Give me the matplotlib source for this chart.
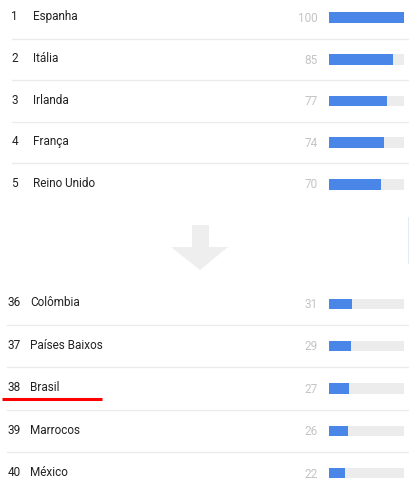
import matplotlib.pyplot as plt
from matplotlib.patches import Polygon

plt.rcParams['font.family'] = ['Roboto', 'DejaVu Sans']

# dados: ranking de interesse por pais
top_ranks = [1, 2, 3, 4, 5]
top_names = ['Espanha', 'Itália', 'Irlanda', 'França', 'Reino Unido']
top_values = [100, 85, 77, 74, 70]

bottom_ranks = [36, 37, 38, 39, 40]
bottom_names = ['Colômbia', 'Países Baixos', 'Brasil', 'Marrocos', 'México']
bottom_values = [31, 29, 27, 26, 22]

highlight = 'Brasil'

W, H = 410, 478
fig = plt.figure(figsize=(W / 100, H / 100), dpi=100)
ax = fig.add_axes([0, 0, 1, 1])
ax.set_xlim(0, W)
ax.set_ylim(H, 0)
ax.axis('off')

BAR_X0, BAR_W, BAR_H = 329, 75, 10.5
BLUE = '#4a86e8'
TRACK = '#ececec'
SEP = '#ebebeb'
TXT = '#222222'
VAL = '#c4c4c4'
FS = 8.5


def draw_block(ranks, names, values, y0, step, rank_x, name_x, sep_x):
    ys = [y0 + i * step for i in range(len(ranks))]
    ax.barh(ys, [BAR_W] * len(ys), left=BAR_X0, height=BAR_H, color=TRACK)
    ax.barh(ys, [v / 100 * BAR_W for v in values], left=BAR_X0, height=BAR_H,
            color=BLUE)
    for i, (r, n, v, y) in enumerate(zip(ranks, names, values, ys)):
        ax.text(rank_x, y + 2.5, str(r), fontsize=FS, color=TXT, va='baseline')
        ax.text(name_x, y + 2.5, n, fontsize=FS, color=TXT, va='baseline')
        ax.text(318, y + 4.2, str(v), fontsize=FS, color=VAL, va='baseline',
                ha='right')
        if i < len(ranks) - 1:
            ax.plot([sep_x, W], [y + step / 2, y + step / 2], color=SEP, lw=1.0)
        if n == highlight:
            ax.plot([2, 102], [y + 10.8] * 2, color='#ff0000', lw=2.2,
                    solid_capstyle='butt')


draw_block(top_ranks, top_names, top_values, 17.7, 41.65, 11.5, 33, 12)
draw_block(bottom_ranks, bottom_names, bottom_values, 303.8, 42.4, 7.5, 30, 7)

# seta entre os dois blocos
arrow = Polygon([(192, 225), (209, 225), (209, 247), (228, 247), (200, 270),
                 (171, 247), (192, 247)], closed=True, facecolor='#eeeeee',
                edgecolor='none')
ax.add_patch(arrow)

# resto de imagem na borda direita
ax.plot([409.3, 409.3], [218, 263], color='#dce6f8', lw=1.2)

fig.savefig('out.png', dpi=100)
